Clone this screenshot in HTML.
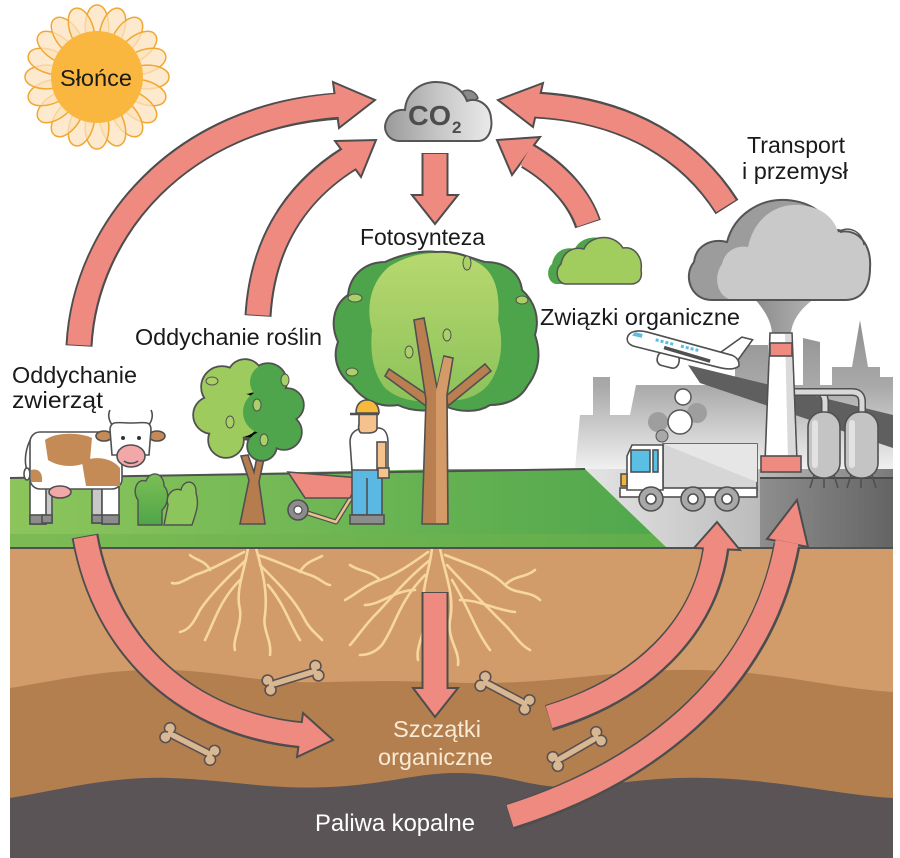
<!DOCTYPE html>
<html><head><meta charset="utf-8">
<style>
html,body{margin:0;padding:0;background:#fff;}
svg{display:block;}
text{font-family:"Liberation Sans","DejaVu Sans",sans-serif;}
</style></head>
<body>
<svg width="900" height="858" viewBox="0 0 900 858" xmlns="http://www.w3.org/2000/svg">
<defs>
  <linearGradient id="grass" x1="0" y1="0" x2="1" y2="0">
    <stop offset="0" stop-color="#8DC55C"/><stop offset="1" stop-color="#4FA74C"/>
  </linearGradient>
  <linearGradient id="gground" x1="585" y1="0" x2="893" y2="0" gradientUnits="userSpaceOnUse">
    <stop offset="0" stop-color="#E4E4E4"/><stop offset="0.55" stop-color="#BDBDBD"/><stop offset="1" stop-color="#7A7A7A"/>
  </linearGradient>
  <linearGradient id="fground" x1="760" y1="0" x2="893" y2="0" gradientUnits="userSpaceOnUse">
    <stop offset="0" stop-color="#8E8E8E"/><stop offset="1" stop-color="#646464"/>
  </linearGradient>
  <linearGradient id="city" x1="0" y1="318" x2="0" y2="469" gradientUnits="userSpaceOnUse">
    <stop offset="0" stop-color="#8F8F8F"/><stop offset="0.45" stop-color="#A9A9A9"/><stop offset="1" stop-color="#F0F0F0"/>
  </linearGradient>
  <linearGradient id="co2" x1="0" y1="0" x2="1" y2="0">
    <stop offset="0" stop-color="#9A9A9A"/><stop offset="0.5" stop-color="#C6C6C6"/><stop offset="1" stop-color="#EAEAEA"/>
  </linearGradient>
  <linearGradient id="canopy" x1="0" y1="0" x2="0" y2="1">
    <stop offset="0" stop-color="#B7D86F"/><stop offset="1" stop-color="#8DC25A"/>
  </linearGradient>
  <linearGradient id="bush" x1="0" y1="0" x2="0" y2="1">
    <stop offset="0" stop-color="#7CBF55"/><stop offset="1" stop-color="#4FA54A"/>
  </linearGradient>
  <linearGradient id="stem" x1="0" y1="0" x2="1" y2="0">
    <stop offset="0" stop-color="#8A8A8A"/><stop offset="1" stop-color="#B5B5B5"/>
  </linearGradient>
  <path id="petal" d="M 86 36 C 83 18 89 5 97 5 C 105 5 111 18 108 36 Z"/>
</defs>

<!-- ===== SOIL ===== -->
<rect x="10" y="546" width="883" height="312" fill="#D29C6A"/>
<path d="M 10 688 C 60 680 110 668 170 670 C 230 672 260 684 330 682 C 400 680 430 682 470 683 C 560 684 620 668 700 670 C 780 672 830 688 893 692 L 893 858 L 10 858 Z" fill="#B47F4F"/>
<path d="M 10 798 C 60 790 110 776 170 778 C 230 780 270 790 330 787 C 390 784 420 772 460 773 C 510 774 530 788 570 787 C 620 785 650 776 710 778 C 780 780 840 795 893 798 L 893 858 L 10 858 Z" fill="#5A5456"/>

<!-- ===== ROOTS ===== -->
<g fill="none" stroke="#F6D79E" stroke-width="2.6" stroke-linecap="round">
  <path d="M 432 548 C 430 570 420 590 425 610 C 428 630 415 645 418 660"/>
  <path d="M 440 548 C 445 575 455 595 450 620 C 447 640 460 650 458 665"/>
  <path d="M 428 552 C 410 565 395 575 380 580 C 365 585 355 595 345 600"/>
  <path d="M 430 560 C 405 580 390 600 375 615 C 365 625 355 640 350 645"/>
  <path d="M 445 555 C 470 565 490 570 505 585 C 515 595 530 590 540 600"/>
  <path d="M 447 565 C 470 590 485 605 505 625 C 515 635 520 645 530 650"/>
  <path d="M 425 575 C 400 600 395 625 385 640 C 380 650 370 655 360 655"/>
  <path d="M 452 580 C 470 610 475 630 490 650"/>
  <path d="M 415 590 C 395 590 380 605 365 605"/>
  <path d="M 460 600 C 480 600 495 610 515 612"/>
  <path d="M 380 580 C 370 570 360 572 350 565"/>
  <path d="M 505 585 C 515 575 525 578 535 570"/>
  <path d="M 436 600 C 432 620 440 640 432 665"/>
  <path d="M 248 548 C 245 570 235 590 240 610 C 242 625 232 640 235 650"/>
  <path d="M 256 548 C 262 570 268 590 265 615 C 262 630 272 640 270 655"/>
  <path d="M 244 552 C 225 562 210 570 195 575 C 185 580 178 585 172 583"/>
  <path d="M 246 560 C 225 580 210 595 200 610 C 195 620 190 630 180 632"/>
  <path d="M 258 555 C 280 562 295 570 310 575 C 320 578 325 585 330 585"/>
  <path d="M 260 565 C 280 585 295 600 305 620 C 310 630 318 635 322 640"/>
  <path d="M 240 580 C 220 600 215 620 205 640"/>
  <path d="M 268 585 C 285 605 290 625 300 640"/>
  <path d="M 210 570 C 205 560 195 560 190 555"/>
  <path d="M 300 572 C 305 562 315 560 322 556"/>
</g>

<!-- ===== BONES ===== -->
<g stroke="#5B5050" stroke-width="1.6" fill="#D8B893">
  <g transform="translate(293,678) rotate(-17)">
    <rect x="-24" y="-3.5" width="48" height="7" />
    <circle cx="-25" cy="-5" r="5.5"/><circle cx="-25" cy="5" r="5.5"/>
    <circle cx="25" cy="-5" r="5.5"/><circle cx="25" cy="5" r="5.5"/>
    <rect x="-25" y="-2.5" width="50" height="5" stroke="none"/>
  </g>
  <g transform="translate(190,744) rotate(27)">
    <rect x="-24" y="-3.5" width="48" height="7" />
    <circle cx="-25" cy="-5" r="5.5"/><circle cx="-25" cy="5" r="5.5"/>
    <circle cx="25" cy="-5" r="5.5"/><circle cx="25" cy="5" r="5.5"/>
    <rect x="-25" y="-2.5" width="50" height="5" stroke="none"/>
  </g>
  <g transform="translate(505,693) rotate(28)">
    <rect x="-24" y="-3.5" width="48" height="7" />
    <circle cx="-25" cy="-5" r="5.5"/><circle cx="-25" cy="5" r="5.5"/>
    <circle cx="25" cy="-5" r="5.5"/><circle cx="25" cy="5" r="5.5"/>
    <rect x="-25" y="-2.5" width="50" height="5" stroke="none"/>
  </g>
  <g transform="translate(577,749) rotate(-30)">
    <rect x="-24" y="-3.5" width="48" height="7" />
    <circle cx="-25" cy="-5" r="5.5"/><circle cx="-25" cy="5" r="5.5"/>
    <circle cx="25" cy="-5" r="5.5"/><circle cx="25" cy="5" r="5.5"/>
    <rect x="-25" y="-2.5" width="50" height="5" stroke="none"/>
  </g>
</g>

<!-- ===== INDUSTRY BACKGROUND ===== -->
<path d="M 575 469 L 580 415 L 593 415 L 593 377 L 610 377 L 610 415 L 630 415 L 636 385 L 735 385 L 735 345 L 768 345 L 768 385 L 803 385 L 803 338 L 820 342 L 820 385 L 832 385 L 832 367 L 852 367 L 860 320 L 868 367 L 880 367 L 880 377 L 893 377 L 893 469 Z" fill="url(#city)"/>
<polygon points="688,365 893,415 893,448 700,383" fill="#5F5F5F"/>
<polygon points="585,469 893,469 893,548 667,548" fill="url(#gground)"/>
<rect x="760" y="478" width="133" height="70" fill="url(#fground)"/>
<line x1="760" y1="478" x2="893" y2="478" stroke="#4a4a4a" stroke-width="2"/>

<!-- ===== GRASS ===== -->
<path d="M 10 478 L 450 469 L 585 469 L 667 548 L 10 548 Z" fill="url(#grass)"/>
<path d="M 10 534 L 652 534 L 667 548 L 10 548 Z" fill="#6FB24F" opacity="0.55"/>
<line x1="10" y1="478" x2="585" y2="469" stroke="#505050" stroke-width="2"/>
<line x1="10" y1="548" x2="893" y2="548" stroke="#505050" stroke-width="2"/>

<!-- ===== SUN ===== -->
<g fill="#FCE2BC" fill-opacity="0.75" stroke="#F0A834" stroke-width="1.5">
  <use href="#petal" transform="rotate(0 97 77)"/><use href="#petal" transform="rotate(18 97 77)"/>
  <use href="#petal" transform="rotate(36 97 77)"/><use href="#petal" transform="rotate(54 97 77)"/>
  <use href="#petal" transform="rotate(72 97 77)"/><use href="#petal" transform="rotate(90 97 77)"/>
  <use href="#petal" transform="rotate(108 97 77)"/><use href="#petal" transform="rotate(126 97 77)"/>
  <use href="#petal" transform="rotate(144 97 77)"/><use href="#petal" transform="rotate(162 97 77)"/>
  <use href="#petal" transform="rotate(180 97 77)"/><use href="#petal" transform="rotate(198 97 77)"/>
  <use href="#petal" transform="rotate(216 97 77)"/><use href="#petal" transform="rotate(234 97 77)"/>
  <use href="#petal" transform="rotate(252 97 77)"/><use href="#petal" transform="rotate(270 97 77)"/>
  <use href="#petal" transform="rotate(288 97 77)"/><use href="#petal" transform="rotate(306 97 77)"/>
  <use href="#petal" transform="rotate(324 97 77)"/><use href="#petal" transform="rotate(342 97 77)"/>
</g>
<circle cx="97" cy="77" r="46" fill="#F9B73F"/>
<text x="60" y="86" font-size="23" fill="#1a1a1a" textLength="72" lengthAdjust="spacingAndGlyphs">Słońce</text>

<!-- ===== CO2 CLOUD ===== -->
<path d="M 458 96 C 462 88 474 88 478 98 L 470 104 Z" fill="#8a8a8a" stroke="#555" stroke-width="1.5"/>
<path d="M 400 141 C 388 141 383 130 386 122 C 389 113 397 109 405 110 C 406 93 420 82 436 82 C 452 82 463 90 467 101 C 478 97 490 105 491 118 C 493 130 488 141 478 141 Z" fill="url(#co2)" stroke="#555" stroke-width="2"/>
<text x="408" y="125" font-size="28" font-weight="bold" fill="#4d4d4d" textLength="43" lengthAdjust="spacingAndGlyphs">CO</text>
<text x="452" y="133" font-size="17" font-weight="bold" fill="#4d4d4d">2</text>

<!-- ===== GREEN CLOUD ===== -->
<path d="M 557 284 C 548 284 545 270 552 264 C 554 252 564 246 575 249 C 580 236 604 232 614 248 C 626 246 634 258 632 270 C 634 280 628 284 622 284 Z" fill="#4DA44B"/>
<path d="M 566 284 C 557 284 554 270 561 264 C 563 252 573 246 584 249 C 589 236 613 232 623 248 C 635 246 643 258 641 270 C 643 280 637 284 631 284 Z" fill="#A1CC5E" stroke="#555" stroke-width="1.5"/>

<!-- ===== BIG GRAY CLOUD + STEM ===== -->
<path d="M 752 296 C 765 310 772 322 772 335 L 791 335 C 791 322 800 308 818 296 Z" fill="url(#stem)"/>
<path d="M 712 300 C 690 300 683 275 694 262 C 696 245 712 238 727 242 C 734 215 760 198 787 200 C 812 202 827 215 832 230 C 850 228 864 245 862 268 C 862 290 852 300 837 300 Z" fill="#9C9C9C" stroke="#555" stroke-width="2"/>
<path d="M 735 300 C 718 300 712 278 722 264 C 725 250 738 245 748 247 C 754 218 776 203 800 205 C 822 207 834 218 838 232 C 856 226 872 245 870 268 C 870 290 860 300 845 300 Z" fill="#C9C9C9"/>
<path d="M 838 232 C 850 225 862 232 864 245" fill="none" stroke="#555" stroke-width="1.5"/>
<path d="M 712 300 L 845 300 C 860 300 870 290 870 268 C 872 245 858 228 840 232" fill="none" stroke="#555" stroke-width="2"/>

<!-- ===== CHIMNEY, PIPES, TANKS ===== -->
<g stroke="#505050" stroke-width="1.6">
  <path d="M 793 392 L 815 392 Q 825 392 825 402 L 825 414" fill="none" stroke-width="8"/>
  <path d="M 793 392 L 815 392 Q 825 392 825 402 L 825 414" fill="none" stroke="#D8D8D8" stroke-width="5"/>
  <path d="M 815 392 L 852 392 Q 862 392 862 402 L 862 414" fill="none" stroke-width="8"/>
  <path d="M 815 392 L 852 392 Q 862 392 862 402 L 862 414" fill="none" stroke="#D8D8D8" stroke-width="5"/>
  <line x1="814" y1="475" x2="810" y2="488"/><line x1="834" y1="475" x2="838" y2="488"/><line x1="824" y1="475" x2="824" y2="488"/>
  <line x1="851" y1="475" x2="847" y2="488"/><line x1="872" y1="475" x2="876" y2="488"/><line x1="861" y1="475" x2="861" y2="488"/>
  <rect x="808" y="412" width="32" height="66" rx="15" fill="#C4C4C4"/>
  <rect x="845" y="412" width="33" height="66" rx="15" fill="#C4C4C4"/>
  <polygon points="770,333 792,333 797,462 765,462" fill="#FFFFFF"/>
  <polygon points="785,334 791,334 796,461 788,461" fill="#DADADA" stroke="none"/>
  <rect x="770" y="343" width="22" height="13" fill="#EE8A80"/>
  <rect x="761" y="456" width="40" height="16" fill="#EE8A80"/>
</g>
<rect x="812" y="420" width="6" height="48" rx="3" fill="#E2E2E2"/>
<rect x="849" y="420" width="6" height="48" rx="3" fill="#E2E2E2"/>

<!-- ===== SMOKE PUFFS ===== -->
<circle cx="658" cy="422" r="10" fill="#9E9E9E"/>
<circle cx="697" cy="413" r="10" fill="#9E9E9E"/>
<circle cx="662" cy="436" r="6" fill="#A8A8A8" stroke="#555" stroke-width="1"/>
<circle cx="683" cy="397" r="8" fill="#fff" stroke="#555" stroke-width="1.5"/>
<circle cx="680" cy="422" r="12" fill="#fff" stroke="#555" stroke-width="1.5"/>

<!-- ===== TRUCK ===== -->
<g stroke="#505050" stroke-width="1.6">
  <rect x="663" y="444" width="94" height="46" fill="#D6D6D6"/>
  <polygon points="663,444 757,444 757,482" fill="#E6E6E6" stroke="none"/>
  <rect x="620" y="488" width="137" height="9" fill="#fff"/>
  <path d="M 627 490 L 627 456 L 632 445 L 663 445 L 663 490 Z" fill="#fff"/>
  <rect x="631" y="450" width="19" height="22" fill="#5BBFE3"/>
  <rect x="653" y="450" width="5" height="22" fill="#5BBFE3"/>
  <rect x="621" y="474" width="6" height="12" fill="#F2B33D"/>
  <circle cx="651" cy="499" r="12" fill="#A8A8A8"/><circle cx="651" cy="499" r="5" fill="#fff"/>
  <circle cx="693" cy="499" r="12" fill="#A8A8A8"/><circle cx="693" cy="499" r="5" fill="#fff"/>
  <circle cx="727" cy="499" r="12" fill="#A8A8A8"/><circle cx="727" cy="499" r="5" fill="#fff"/>
</g>

<!-- ===== PLANE ===== -->
<g transform="translate(682,350) rotate(14)" stroke="#505050" stroke-width="1.6">
  <path d="M 38 -7 L 55 -27 L 66 -27 L 56 -2 Z" fill="#fff"/>
  <rect x="-22" y="6" width="22" height="14" rx="6" fill="#fff"/>
  <path d="M -56 1 C -56 -6 -47 -9 -38 -9 L 50 -7 C 56 -6 59 -2 59 2 C 56 6 50 8 40 8 L -46 8 C -53 8 -56 5 -56 1 Z" fill="#fff"/>
  <path d="M -50 -6 L -42 -6 L -42 -2 L -52 -2 Z" fill="#5BBFE3" stroke="none"/>
  <g fill="#5BBFE3" stroke="none">
    <rect x="-28" y="-5" width="3" height="3"/><rect x="-23" y="-5" width="3" height="3"/><rect x="-18" y="-5" width="3" height="3"/><rect x="-13" y="-5" width="3" height="3"/>
    <rect x="-2" y="-5" width="3" height="3"/><rect x="3" y="-5" width="3" height="3"/><rect x="8" y="-5" width="3" height="3"/><rect x="13" y="-5" width="3" height="3"/>
  </g>
  <line x1="-18" y1="2" x2="30" y2="4" stroke="#505050" stroke-width="3.5"/>
</g>

<!-- ===== COW ===== -->
<g stroke="#505050" stroke-width="1.6">
  <path d="M 32 437 C 25 448 24 462 27 470" fill="none"/>
  <ellipse cx="27" cy="474" rx="3" ry="6" fill="#fff"/>
  <rect x="42" y="485" width="10" height="38" fill="#C8C8C8"/>
  <rect x="92" y="485" width="10" height="38" fill="#C8C8C8"/>
  <rect x="30" y="482" width="16" height="42" fill="#fff"/>
  <rect x="102" y="482" width="17" height="42" fill="#fff"/>
  <rect x="30" y="515" width="16" height="9" fill="#8C8C8C"/>
  <rect x="102" y="515" width="17" height="9" fill="#8C8C8C"/>
  <rect x="42" y="515" width="10" height="8" fill="#8C8C8C"/>
  <rect x="92" y="515" width="10" height="8" fill="#8C8C8C"/>
  <rect x="30" y="432" width="92" height="57" rx="10" fill="#fff"/>
  <path d="M 45 440 C 55 432 80 432 92 438 L 90 460 C 80 468 60 468 48 460 Z" fill="#C48B57" stroke="none"/>
  <path d="M 82 462 C 95 455 112 458 120 468 L 120 486 L 86 486 Z" fill="#C48B57" stroke="none"/>
  <path d="M 31 470 C 38 468 43 472 42 482 L 31 482 Z" fill="#C48B57" stroke="none"/>
  <ellipse cx="60" cy="492" rx="11" ry="6" fill="#F2A8A8"/>
  <path d="M 113 426 C 108 420 108 414 110 410" fill="none"/>
  <path d="M 148 426 C 153 420 153 414 151 410" fill="none"/>
  <ellipse cx="104" cy="436" rx="8" ry="5" fill="#C48B57"/>
  <ellipse cx="157" cy="436" rx="8" ry="5" fill="#C48B57"/>
  <path d="M 110 430 C 110 420 118 423 131 423 C 144 423 151 420 151 430 L 149 455 L 112 455 Z" fill="#fff"/>
  <ellipse cx="131" cy="456" rx="14" ry="11" fill="#F2A8A8"/>
  <path d="M 124 461 C 128 464 134 464 138 461" fill="none"/>
</g>
<circle cx="123" cy="438" r="2" fill="#333"/><circle cx="139" cy="438" r="2" fill="#333"/>

<!-- ===== BUSH ===== -->
<path d="M 138 525 L 138 500 C 132 492 136 478 146 481 C 150 470 164 472 164 486 C 170 492 168 505 162 510 L 162 525 Z" fill="url(#bush)" stroke="#505050" stroke-width="1.4"/>
<path d="M 164 525 L 168 505 C 165 495 173 487 181 490 C 183 479 197 479 196 493 C 200 505 195 515 192 525 Z" fill="#8CC55B" stroke="#505050" stroke-width="1.4"/>

<!-- ===== SMALL TREE ===== -->
<path d="M 240 524 L 249 480 L 241 456 L 248 455 L 254 472 L 259 447 L 266 449 L 259 482 L 265 524 Z" fill="#B57C4E" stroke="#505050" stroke-width="1.6"/>
<g stroke="#505050" stroke-width="3.5">
  <circle cx="222" cy="387" r="20"/><circle cx="212" cy="415" r="18"/><circle cx="226" cy="440" r="17"/>
  <circle cx="245" cy="377" r="17"/><circle cx="268" cy="382" r="18"/><circle cx="287" cy="405" r="16"/>
  <circle cx="284" cy="432" r="17"/><circle cx="262" cy="446" r="14"/><circle cx="250" cy="415" r="24"/>
</g>
<g fill="#9ECB5D">
  <circle cx="222" cy="387" r="20"/><circle cx="212" cy="415" r="18"/><circle cx="226" cy="440" r="17"/>
  <circle cx="245" cy="377" r="17"/><circle cx="240" cy="415" r="22"/>
</g>
<g fill="#4EA54B">
  <circle cx="268" cy="382" r="18"/><circle cx="287" cy="405" r="16"/>
  <circle cx="284" cy="432" r="17"/><circle cx="262" cy="446" r="14"/><circle cx="265" cy="412" r="22"/>
</g>
<g fill="#A9D167" stroke="#505050" stroke-width="1">
  <ellipse cx="257" cy="405" rx="4" ry="6"/><ellipse cx="230" cy="422" rx="4" ry="6"/><ellipse cx="264" cy="440" rx="4" ry="6"/>
  <ellipse cx="212" cy="381" rx="6" ry="4"/><ellipse cx="285" cy="380" rx="4" ry="6"/>
</g>

<!-- ===== BIG TREE ===== -->
<path d="M 437 252 C 455 250 470 258 485 262 C 505 262 520 272 522 290 C 535 302 540 318 535 335 C 542 355 538 372 528 385 C 520 400 505 405 490 405 C 478 413 460 412 447 407 C 432 412 412 412 398 405 C 380 408 362 400 352 385 C 338 375 332 358 338 342 C 330 325 333 305 348 295 C 350 275 365 262 385 262 C 400 255 420 250 437 252 Z" fill="#4DA44A" stroke="#505050" stroke-width="2"/>
<path d="M 437 253 C 455 252 470 258 480 264 C 498 275 500 300 498 320 C 505 345 500 370 488 385 C 475 400 455 402 440 400 C 420 404 398 400 385 388 C 372 372 370 350 372 330 C 365 305 372 280 390 266 C 405 257 420 253 437 253 Z" fill="url(#canopy)"/>
<g stroke="#505050" stroke-width="1.6" fill="#B97F50">
  <polygon points="426,406 385,376 389,369 429,396"/>
  <polygon points="446,396 485,364 491,371 448,406"/>
  <polygon points="422,524 426,400 414,320 424,318 437,388 444,356 453,358 447,395 448,524"/>
</g>
<polygon points="436,392 444,357 452,359 446,395 447,523 436,523" fill="#D49B68"/>
<g fill="#A9D167" stroke="#505050" stroke-width="1">
  <ellipse cx="355" cy="298" rx="7" ry="4"/><ellipse cx="467" cy="263" rx="4" ry="7"/>
  <ellipse cx="522" cy="300" rx="6" ry="4"/><ellipse cx="352" cy="372" rx="6" ry="4"/>
  <ellipse cx="409" cy="352" rx="4" ry="6"/><ellipse cx="447" cy="335" rx="4" ry="6"/>
</g>

<!-- ===== WHEELBARROW ===== -->
<path d="M 298 510 L 336 522 L 368 470" fill="none" stroke="#505050" stroke-width="5" stroke-linejoin="round"/>
<path d="M 298 510 L 336 522 L 368 470" fill="none" stroke="#E6C48E" stroke-width="2.5" stroke-linejoin="round"/>
<polygon points="288,472 360,478 350,498 305,498" fill="#EE8A80" stroke="#505050" stroke-width="1.6"/>
<circle cx="298" cy="510" r="10" fill="#8C8C8C" stroke="#505050" stroke-width="1.6"/>
<circle cx="298" cy="510" r="4" fill="#fff" stroke="#505050" stroke-width="1.2"/>

<!-- ===== WORKER ===== -->
<g stroke="#505050" stroke-width="1.6">
  <rect x="352" y="468" width="30" height="47" fill="#5BB8E2"/>
  <line x1="367" y1="478" x2="367" y2="515"/>
  <rect x="350" y="515" width="34" height="9" fill="#8C8C8C"/>
  <path d="M 352 470 L 350 442 C 350 432 357 428 366 428 L 378 428 C 386 428 388 436 388 443 L 388 470 Z" fill="#fff"/>
  <rect x="377" y="442" width="9" height="28" fill="#F5C28E"/>
  <rect x="378" y="468" width="11" height="10" fill="#F5C28E"/>
  <path d="M 359 412 L 377 412 L 377 428 C 377 432 372 433 368 433 L 362 433 C 359 433 358 428 359 424 Z" fill="#F5C28E"/>
  <path d="M 356 413 C 356 403 362 400 367 400 C 373 400 379 404 379 413 Z" fill="#F6B93B"/>
  <path d="M 350 414 L 379 414" stroke-width="2.5"/>
</g>

<!-- ===== ARROWS ===== -->
<g fill="none" stroke-linecap="butt">
  <g stroke="#4D4D4D" stroke-width="27">
    <path d="M 79 346 C 85 230 180 115 340 106"/>
    <path d="M 258 316 C 262 250 290 195 350 158"/>
    <path d="M 435 153 L 435 198"/>
    <path d="M 588 224 C 580 200 560 175 528 156"/>
    <path d="M 727 207 C 692 152 630 110 536 105"/>
    <path d="M 85 536 C 105 650 190 725 302 735"/>
    <path d="M 435 592 L 435 690"/>
    <path d="M 549 718 C 640 690 705 630 716 548"/>
    <path d="M 510 817 C 640 775 760 690 787 545"/>
  </g>
</g>
<g fill="#EF8A80" stroke="#4D4D4D" stroke-width="2" stroke-linejoin="miter">
  <polygon points="333,82 375,100 339,128"/>
  <polygon points="335,141 376,140 361,177"/>
  <polygon points="412,195 458,195 435,224"/>
  <polygon points="540,137 497,140 512,175"/>
  <polygon points="543,83 498,100 533,127"/>
  <polygon points="303,713 333,740 297,757"/>
  <polygon points="413,688 458,688 435,717"/>
  <polygon points="694,548 717,522 740,550"/>
  <polygon points="767,539 797,500 808,547"/>
</g>
<g fill="none" stroke="#EF8A80" stroke-width="23" stroke-linecap="butt">
  <path d="M 79 345 C 85 230 180 115 343 105"/>
  <path d="M 258 315 C 262 250 290 195 352 157"/>
  <path d="M 435 154 L 435 200"/>
  <path d="M 588 223 C 580 200 560 175 526 155"/>
  <path d="M 726 206 C 692 152 630 110 533 105"/>
  <path d="M 85 537 C 105 650 190 725 305 735"/>
  <path d="M 435 593 L 435 692"/>
  <path d="M 549 717 C 640 690 705 630 716 545"/>
  <path d="M 510 816 C 640 775 760 690 787 542"/>
</g>

<!-- ===== LABELS ===== -->
<g fill="#1a1a1a" font-size="23">
  <text x="747" y="153" textLength="98" lengthAdjust="spacingAndGlyphs">Transport</text>
  <text x="742" y="179" textLength="106" lengthAdjust="spacingAndGlyphs">i przemysł</text>
  <text x="360" y="245" textLength="125" lengthAdjust="spacingAndGlyphs">Fotosynteza</text>
  <text x="540" y="325" textLength="200" lengthAdjust="spacingAndGlyphs">Związki organiczne</text>
  <text x="135" y="345" textLength="187" lengthAdjust="spacingAndGlyphs">Oddychanie roślin</text>
  <text x="12" y="383" textLength="125" lengthAdjust="spacingAndGlyphs">Oddychanie</text>
  <text x="12" y="408" textLength="91" lengthAdjust="spacingAndGlyphs">zwierząt</text>
</g>
<text x="393" y="737" font-size="23" fill="#F8EBD6" textLength="88" lengthAdjust="spacingAndGlyphs">Szczątki</text>
<text x="378" y="765" font-size="23" fill="#F8EBD6" textLength="115" lengthAdjust="spacingAndGlyphs">organiczne</text>
<text x="315" y="831" font-size="24" fill="#FFFFFF" textLength="160" lengthAdjust="spacingAndGlyphs">Paliwa kopalne</text>
</svg>
</body></html>
